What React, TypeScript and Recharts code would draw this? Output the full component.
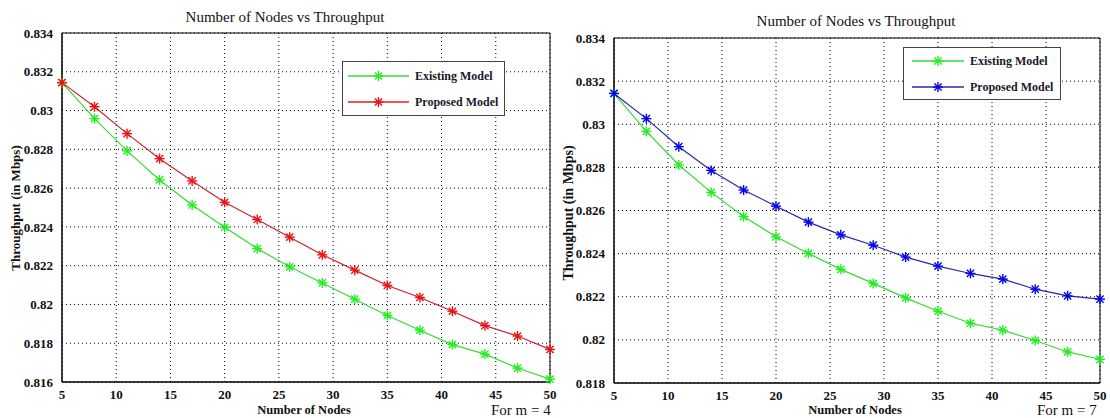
import React from 'react'
import {
  LineChart,
  Line,
  XAxis,
  YAxis,
  CartesianGrid,
  ReferenceArea,
} from 'recharts'

// node counts shared by both plots
const nodes = [5, 8, 11, 14, 17, 20, 23, 26, 29, 32, 35, 38, 41, 44, 47, 50]
const xTicks = [5, 10, 15, 20, 25, 30, 35, 40, 45, 50]

// m = 4
const existingM4 = [
  0.83144, 0.82958, 0.82792, 0.82642, 0.82513, 0.82398, 0.82288, 0.82194,
  0.82111, 0.82027, 0.81943, 0.81867, 0.81793, 0.81744, 0.81672, 0.81615,
]
const proposedM4 = [
  0.83144, 0.8302, 0.82881, 0.82752, 0.82637, 0.82527, 0.82438, 0.82347,
  0.82256, 0.82177, 0.82098, 0.82036, 0.81965, 0.81891, 0.81837, 0.81768,
]
const yTicksM4 = [0.816, 0.818, 0.82, 0.822, 0.824, 0.826, 0.828, 0.83, 0.832, 0.834]

// m = 7
const existingM7 = [
  0.83143, 0.82967, 0.82811, 0.82684, 0.82572, 0.82478, 0.82401, 0.82327,
  0.82262, 0.82195, 0.82133, 0.82077, 0.82045, 0.81997, 0.81944, 0.8191,
]
const proposedM7 = [
  0.83143, 0.83026, 0.82896, 0.82786, 0.82695, 0.8262, 0.82546, 0.82487,
  0.82439, 0.82384, 0.82342, 0.82308, 0.82282, 0.82235, 0.82204, 0.82189,
]
const yTicksM7 = [0.818, 0.82, 0.822, 0.824, 0.826, 0.828, 0.83, 0.832, 0.834]

const FONT = "'Liberation Serif', 'Times New Roman', serif"

function starDot(color: string) {
  return (props: any) => {
    const { cx, cy, index } = props
    if (cx == null || cy == null) return null
    const r = 5
    const d = r * 0.72
    return (
      <g key={`s-${index}`} stroke={color} strokeWidth={1.4}>
        <line x1={cx - r} y1={cy} x2={cx + r} y2={cy} />
        <line x1={cx} y1={cy - r} x2={cx} y2={cy + r} />
        <line x1={cx - d} y1={cy - d} x2={cx + d} y2={cy + d} />
        <line x1={cx - d} y1={cy + d} x2={cx + d} y2={cy - d} />
      </g>
    )
  }
}

function LegendRow({ color, lineColor, label, lineW }: any) {
  return (
    <div style={{ display: 'flex', alignItems: 'center', height: 26 }}>
      <svg width={lineW + 6} height={14} style={{ flex: 'none' }}>
        <line x1={0} y1={7} x2={lineW} y2={7} stroke={lineColor} strokeWidth={1.3} />
        {starDot(color)({ cx: lineW / 2, cy: 7, index: 0 })}
      </svg>
      <span style={{ fontWeight: 'bold', fontSize: 12, color: '#1a1a2a' }}>{label}</span>
    </div>
  )
}

const tickStyle = { fontSize: 13, fontWeight: 'bold', fill: '#111', fontFamily: FONT }

function Panel({
  left,
  width,
  margin,
  yTicks,
  existing,
  proposed,
  propColor,
  propLine,
}: any) {
  const data = nodes.map((n, i) => ({ n, existing: existing[i], proposed: proposed[i] }))
  const lo = yTicks[0]
  const hi = yTicks[yTicks.length - 1]
  return (
    <div style={{ position: 'absolute', left, top: 0 }}>
      <LineChart width={width} height={418} data={data} margin={margin}>
        <CartesianGrid stroke="#000" strokeDasharray="1 3" strokeWidth={1} />
        <XAxis
          dataKey="n"
          type="number"
          domain={[5, 50]}
          ticks={xTicks}
          height={20}
          tickLine={false}
          axisLine={{ stroke: '#000', strokeWidth: 1 }}
          tick={tickStyle}
          tickMargin={2}
        />
        <YAxis
          type="number"
          domain={[lo, hi]}
          ticks={yTicks}
          width={52}
          tickLine={false}
          axisLine={{ stroke: '#000', strokeWidth: 1 }}
          tick={tickStyle}
          tickFormatter={(v: number) => String(Number(v.toFixed(3)))}
          tickMargin={3}
        />
        <ReferenceArea
          x1={5}
          x2={50}
          y1={lo}
          y2={hi}
          fill="none"
          stroke="#000"
          strokeWidth={1}
          strokeOpacity={1}
        />
        <Line
          dataKey="existing"
          stroke="#33dd33"
          strokeWidth={1.2}
          dot={starDot('#22ee22')}
          isAnimationActive={false}
        />
        <Line
          dataKey="proposed"
          stroke={propLine}
          strokeWidth={1.2}
          dot={starDot(propColor)}
          isAnimationActive={false}
        />
      </LineChart>
    </div>
  )
}

const abs = (s: any) =>
  ({ position: 'absolute', whiteSpace: 'nowrap', lineHeight: 1, color: '#111', ...s }) as any

export default function App() {
  return (
    <div
      style={{
        position: 'absolute',
        left: 0,
        top: 0,
        width: 1110,
        height: 418,
        background: '#fff',
        fontFamily: FONT,
        overflow: 'hidden',
      }}
    >
      <Panel
        left={0}
        width={560}
        margin={{ top: 33, right: 10, bottom: 16, left: 10 }}
        yTicks={yTicksM4}
        existing={existingM4}
        proposed={proposedM4}
        propColor="#ee1111"
        propLine="#cc2233"
      />
      <Panel
        left={555}
        width={555}
        margin={{ top: 38, right: 10, bottom: 15, left: 7 }}
        yTicks={yTicksM7}
        existing={existingM7}
        proposed={proposedM7}
        propColor="#0000ee"
        propLine="#2828a8"
      />

      {/* titles */}
      <div style={abs({ left: 135, top: 10, width: 300, textAlign: 'center', fontSize: 15 })}>
        Number of Nodes vs Throughput
      </div>
      <div style={abs({ left: 706, top: 14, width: 300, textAlign: 'center', fontSize: 15 })}>
        Number of Nodes vs Throughput
      </div>

      {/* y labels */}
      <div
        style={abs({
          left: 15,
          top: 208,
          fontSize: 13,
          fontWeight: 'bold',
          transform: 'translate(-50%, -50%) rotate(-90deg)',
        })}
      >
        Throughput (in Mbps)
      </div>
      <div
        style={abs({
          left: 569,
          top: 213,
          fontSize: 14,
          fontWeight: 'bold',
          transform: 'translate(-50%, -50%) rotate(-90deg)',
        })}
      >
        Throughput (in Mbps)
      </div>

      {/* x labels */}
      <div style={abs({ left: 224, top: 404, width: 160, textAlign: 'center', fontSize: 12.5, fontWeight: 'bold' })}>
        Number of Nodes
      </div>
      <div style={abs({ left: 775, top: 404, width: 160, textAlign: 'center', fontSize: 12.5, fontWeight: 'bold' })}>
        Number of Nodes
      </div>
      <div style={abs({ left: 491, top: 403, fontSize: 15 })}>For m = 4</div>
      <div style={abs({ left: 1037, top: 403, fontSize: 15 })}>For m = 7</div>

      {/* legends */}
      <div
        style={abs({
          left: 342,
          top: 61,
          width: 163,
          height: 55,
          boxSizing: 'border-box',
          border: '1.5px solid #444',
          background: '#fff',
          padding: '1px 0 0 5px',
        })}
      >
        <LegendRow color="#22ee22" lineColor="#33dd33" label="Existing Model" lineW={61} />
        <LegendRow color="#ee1111" lineColor="#dd2222" label="Proposed Model" lineW={61} />
      </div>
      <div
        style={abs({
          left: 903,
          top: 47,
          width: 158,
          height: 53,
          boxSizing: 'border-box',
          border: '1.5px solid #444',
          background: '#fff',
          padding: '0 0 0 8px',
        })}
      >
        <LegendRow color="#22ee22" lineColor="#33dd33" label="Existing Model" lineW={52} />
        <LegendRow color="#0000ee" lineColor="#2828a8" label="Proposed Model" lineW={52} />
      </div>
    </div>
  )
}
